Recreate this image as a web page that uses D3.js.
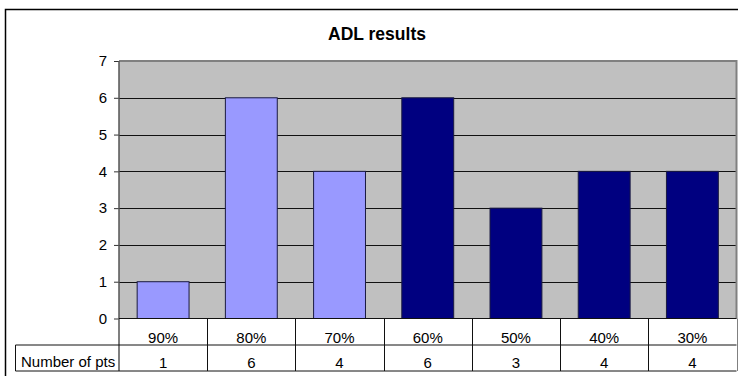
<!DOCTYPE html>
<html>
<head>
<meta charset="utf-8">
<script src="https://cdn.jsdelivr.net/npm/d3@7"></script>
<style>
  html, body { margin: 0; padding: 0; background: #fff; }
  svg { display: block; font-family: "Liberation Sans", Arial, sans-serif; }
</style>
</head>
<body>
<svg id="chart" width="738" height="376"></svg>
<script>
// ADL results: number of patients per score band
const categories = ["90%", "80%", "70%", "60%", "50%", "40%", "30%"];
const patients = [1, 6, 4, 6, 3, 4, 4];
const yTicks = [0, 1, 2, 3, 4, 5, 6, 7];
const rowLabel = "Number of pts";
const title = "ADL results";

const svg = d3.select("#chart");

const plot = { left: 119, right: 736.5, top: 61, bottom: 318.5 };
const rowH = [318.5, 345, 371];

const x = d3.scaleBand().domain(categories).range([plot.left, plot.right]).padding(0);
const y = d3.scaleLinear().domain([0, 7]).range([plot.bottom, plot.top]);
// upper bands drawn light, lower bands dark
const colour = d3.scaleOrdinal().domain(categories)
  .range(categories.map((c, i) => i < 3 ? "#9999FF" : "#000080"));

// chart frame
svg.append("rect")
  .attr("x", 5.5).attr("y", 9.5).attr("width", 760).attr("height", 400)
  .attr("fill", "#fff").attr("stroke", "#000").attr("stroke-width", 1.5);

// title
svg.append("text")
  .attr("x", 377).attr("y", 40)
  .attr("text-anchor", "middle")
  .attr("font-size", "17.5px").attr("font-weight", "bold")
  .text(title);

// plot area
svg.append("rect")
  .attr("x", plot.left).attr("y", plot.top)
  .attr("width", plot.right - plot.left).attr("height", plot.bottom - plot.top)
  .attr("fill", "#C0C0C0");

// gridlines
svg.append("g").selectAll("line")
  .data(yTicks.filter(d => d > 0 && d < 7))
  .join("line")
  .attr("x1", plot.left).attr("x2", plot.right)
  .attr("y1", d => Math.round(y(d)) + 0.5).attr("y2", d => Math.round(y(d)) + 0.5)
  .attr("stroke", "#111").attr("stroke-width", 1);

// plot border (top and right)
svg.append("path")
  .attr("d", `M${plot.left},${plot.top} H${plot.right} V${plot.bottom}`)
  .attr("fill", "none").attr("stroke", "#808080").attr("stroke-width", 2);

// bars
const bw = x.step() / 1.7;
svg.append("g").selectAll("rect")
  .data(categories.map((c, i) => ({ c, v: patients[i] })))
  .join("rect")
  .attr("x", d => x(d.c) + (x.step() - bw) / 2)
  .attr("y", d => y(d.v))
  .attr("width", bw)
  .attr("height", d => y(0) - y(d.v))
  .attr("fill", d => colour(d.c))
  .attr("stroke", "#1a1a40").attr("stroke-width", 1);

// y axis
const yAxis = d3.axisLeft(y).tickValues(yTicks).tickSize(5).tickPadding(7).tickFormat(d3.format("d"));
const ya = svg.append("g").attr("transform", `translate(${plot.left},0)`).call(yAxis);
ya.select(".domain").remove();
ya.selectAll(".tick line").attr("stroke", "#333");
ya.selectAll(".tick text").attr("font-size", "15px").attr("fill", "#000")
  .attr("font-family", "'Liberation Sans', Arial, sans-serif");
svg.append("line")
  .attr("x1", plot.left).attr("x2", plot.left)
  .attr("y1", plot.top).attr("y2", rowH[2])
  .attr("stroke", "#555").attr("stroke-width", 1.5);

// data table
const tbl = svg.append("g").attr("stroke", "#111").attr("stroke-width", 1).attr("fill", "none");
tbl.append("line").attr("x1", plot.left).attr("x2", plot.right).attr("y1", rowH[0]).attr("y2", rowH[0]);
tbl.append("line").attr("x1", 15.5).attr("x2", plot.right).attr("y1", rowH[1]).attr("y2", rowH[1]);
tbl.append("line").attr("x1", 15.5).attr("x2", plot.right).attr("y1", rowH[2]).attr("y2", rowH[2]);
tbl.append("line").attr("x1", 15.5).attr("x2", 15.5).attr("y1", rowH[1]).attr("y2", rowH[2]);
tbl.selectAll(".col")
  .data(categories.slice(1))
  .join("line")
  .attr("x1", d => Math.round(x(d)) + 0.5).attr("x2", d => Math.round(x(d)) + 0.5)
  .attr("y1", rowH[0]).attr("y2", rowH[2]);
tbl.append("line")
  .attr("x1", Math.round(plot.right) + 0.5).attr("x2", Math.round(plot.right) + 0.5)
  .attr("y1", rowH[0]).attr("y2", rowH[2]).attr("stroke", "#808080");

svg.append("g").selectAll("text")
  .data(categories)
  .join("text")
  .attr("x", d => x(d) + x.bandwidth() / 2)
  .attr("y", 342.5)
  .attr("text-anchor", "middle").attr("font-size", "15px")
  .text(d => d);

svg.append("g").selectAll("text")
  .data(categories.map((c, i) => ({ c, v: patients[i] })))
  .join("text")
  .attr("x", d => x(d.c) + x.bandwidth() / 2)
  .attr("y", 367.5)
  .attr("text-anchor", "middle").attr("font-size", "15px")
  .text(d => d.v);

svg.append("text")
  .attr("x", 21).attr("y", 366.5)
  .attr("font-size", "15px")
  .text(rowLabel);
</script>
</body>
</html>
